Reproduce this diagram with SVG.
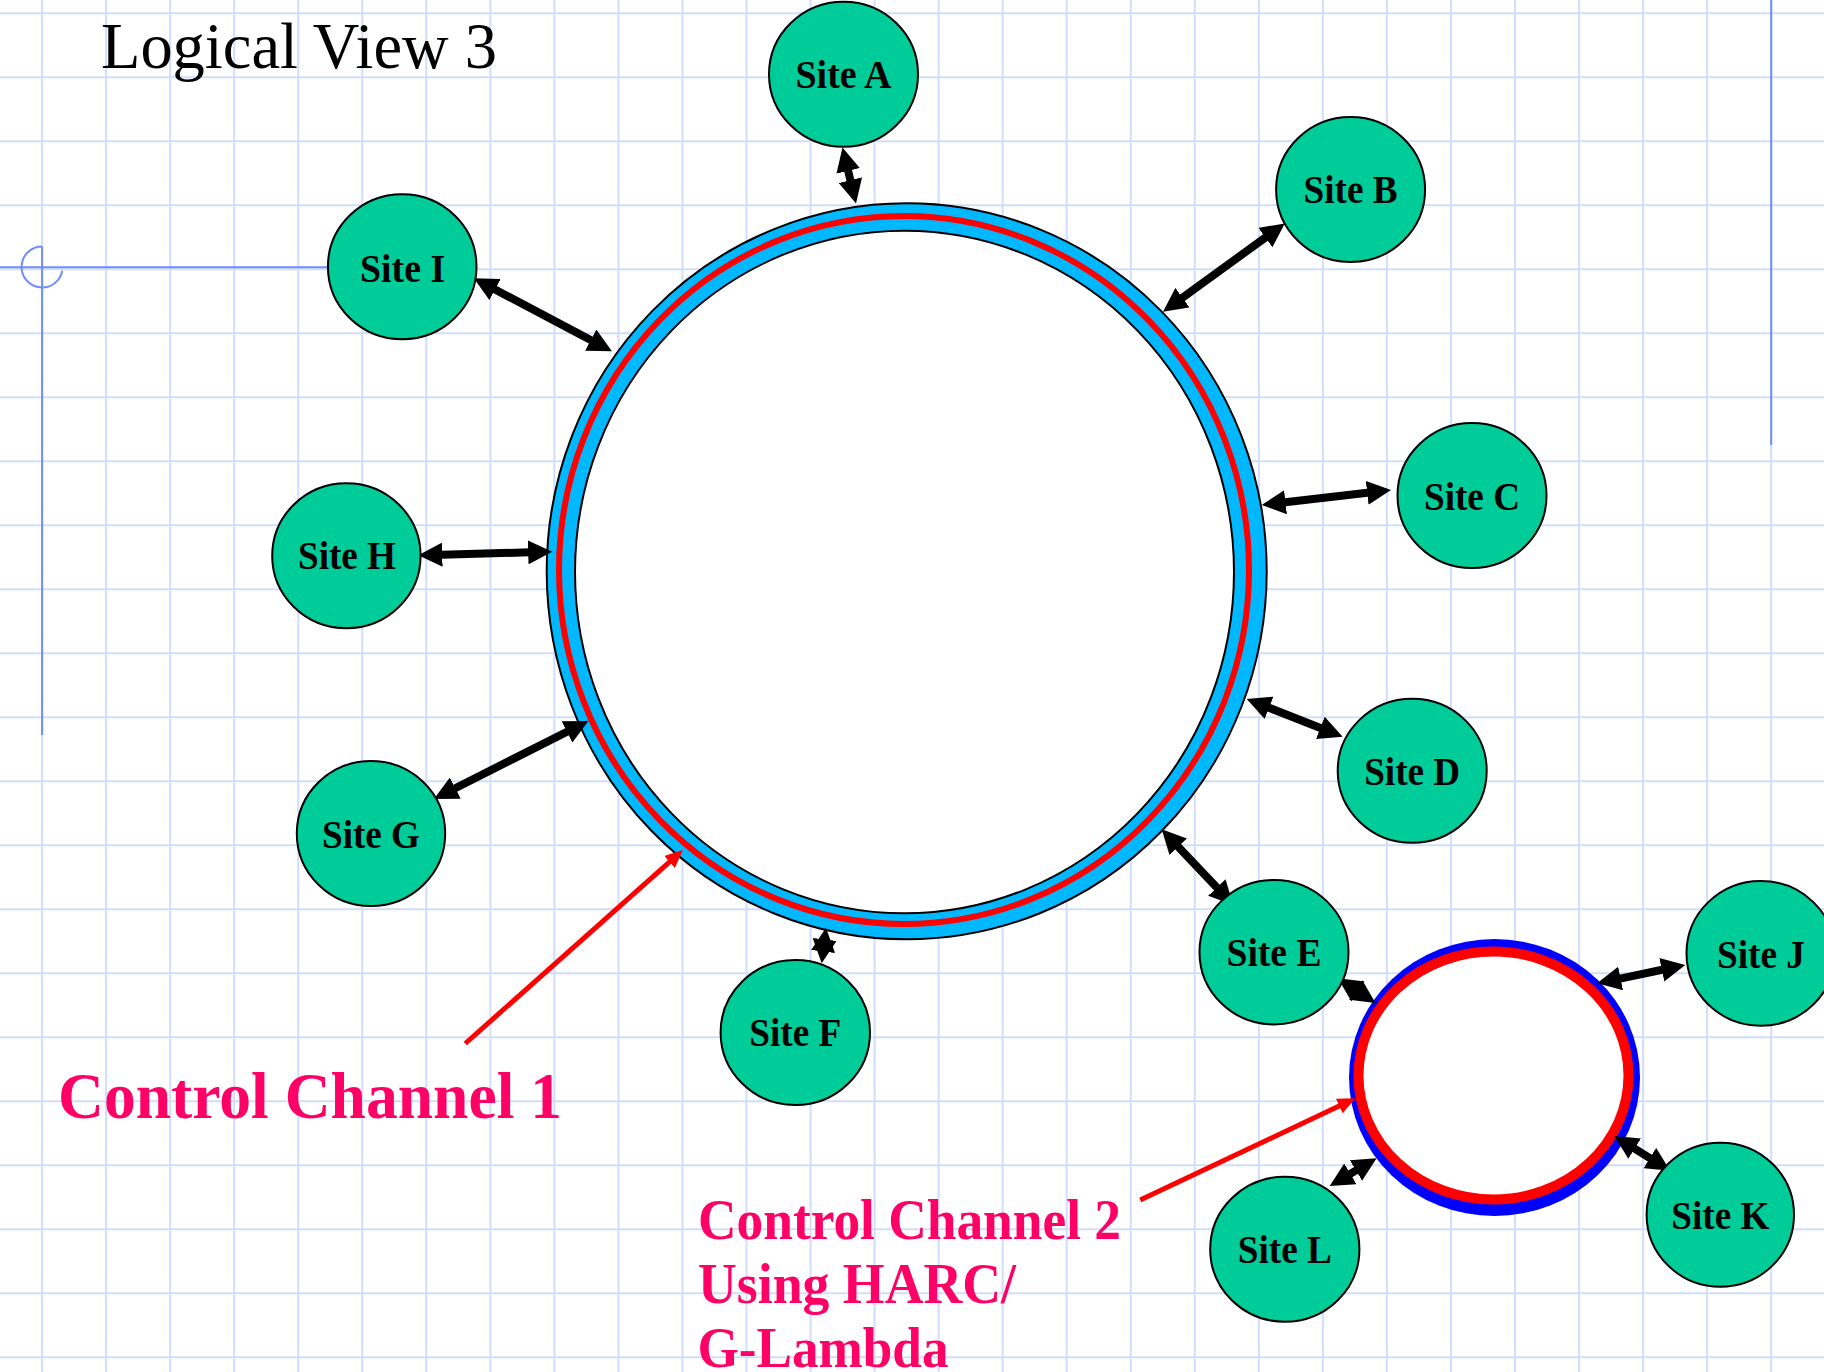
<svg xmlns="http://www.w3.org/2000/svg" width="1824" height="1372" viewBox="0 0 1824 1372">
  <style>
    .grid line { stroke: #d2ddfa; stroke-width: 2; }
    .guide { stroke: #6e8cff; stroke-width: 2; fill: none; }
    .site ellipse { fill: #00cc99; stroke: #000; stroke-width: 2; }
    .site text { font-family: "Liberation Serif", "Times New Roman", serif; font-weight: bold; font-size: 40px; fill: #000; text-anchor: middle; }
    .link { stroke: #000; stroke-width: 8; fill: none; marker-start: url(#head); marker-end: url(#head); }
    .pointer { stroke: #ff0000; stroke-width: 5; fill: none; marker-end: url(#redhead); }
    .title { font-family: "Liberation Serif", "Times New Roman", serif; font-size: 65px; fill: #000; }
    .label { font-family: "Liberation Serif", "Times New Roman", serif; font-weight: bold; fill: #ff0066; }
  </style>
  <defs>
    <marker id="head" viewBox="0 -12 24 24" refX="9" refY="0" markerWidth="24" markerHeight="24" markerUnits="userSpaceOnUse" orient="auto-start-reverse">
      <path d="M0,-12 L24,0 L0,12 z" fill="#000"/>
    </marker>
    <marker id="redhead" viewBox="0 -8 18 16" refX="8" refY="0" markerWidth="18" markerHeight="16" markerUnits="userSpaceOnUse" orient="auto">
      <path d="M0,-8 L18,0 L0,8 z" fill="#ff0000"/>
    </marker>
  </defs>

  <rect width="1824" height="1372" fill="#fff"/>

  <!-- graph paper -->
  <g class="grid">
    <line x1="42.1" y1="0" x2="42.1" y2="1372"/>
    <line x1="106.1" y1="0" x2="106.1" y2="1372"/>
    <line x1="170.2" y1="0" x2="170.2" y2="1372"/>
    <line x1="234.2" y1="0" x2="234.2" y2="1372"/>
    <line x1="298.3" y1="0" x2="298.3" y2="1372"/>
    <line x1="362.3" y1="0" x2="362.3" y2="1372"/>
    <line x1="426.3" y1="0" x2="426.3" y2="1372"/>
    <line x1="490.4" y1="0" x2="490.4" y2="1372"/>
    <line x1="554.4" y1="0" x2="554.4" y2="1372"/>
    <line x1="618.5" y1="0" x2="618.5" y2="1372"/>
    <line x1="682.5" y1="0" x2="682.5" y2="1372"/>
    <line x1="746.5" y1="0" x2="746.5" y2="1372"/>
    <line x1="810.6" y1="0" x2="810.6" y2="1372"/>
    <line x1="874.6" y1="0" x2="874.6" y2="1372"/>
    <line x1="938.7" y1="0" x2="938.7" y2="1372"/>
    <line x1="1002.7" y1="0" x2="1002.7" y2="1372"/>
    <line x1="1066.7" y1="0" x2="1066.7" y2="1372"/>
    <line x1="1130.8" y1="0" x2="1130.8" y2="1372"/>
    <line x1="1194.8" y1="0" x2="1194.8" y2="1372"/>
    <line x1="1258.9" y1="0" x2="1258.9" y2="1372"/>
    <line x1="1322.9" y1="0" x2="1322.9" y2="1372"/>
    <line x1="1386.9" y1="0" x2="1386.9" y2="1372"/>
    <line x1="1451.0" y1="0" x2="1451.0" y2="1372"/>
    <line x1="1515.0" y1="0" x2="1515.0" y2="1372"/>
    <line x1="1579.1" y1="0" x2="1579.1" y2="1372"/>
    <line x1="1643.1" y1="0" x2="1643.1" y2="1372"/>
    <line x1="1707.1" y1="0" x2="1707.1" y2="1372"/>
    <line x1="1771.2" y1="0" x2="1771.2" y2="1372"/>
    <line x1="0" y1="13.3" x2="1824" y2="13.3"/>
    <line x1="0" y1="77.3" x2="1824" y2="77.3"/>
    <line x1="0" y1="141.3" x2="1824" y2="141.3"/>
    <line x1="0" y1="205.3" x2="1824" y2="205.3"/>
    <line x1="0" y1="269.3" x2="1824" y2="269.3"/>
    <line x1="0" y1="333.3" x2="1824" y2="333.3"/>
    <line x1="0" y1="397.3" x2="1824" y2="397.3"/>
    <line x1="0" y1="461.3" x2="1824" y2="461.3"/>
    <line x1="0" y1="525.3" x2="1824" y2="525.3"/>
    <line x1="0" y1="589.3" x2="1824" y2="589.3"/>
    <line x1="0" y1="653.3" x2="1824" y2="653.3"/>
    <line x1="0" y1="717.3" x2="1824" y2="717.3"/>
    <line x1="0" y1="781.3" x2="1824" y2="781.3"/>
    <line x1="0" y1="845.3" x2="1824" y2="845.3"/>
    <line x1="0" y1="909.3" x2="1824" y2="909.3"/>
    <line x1="0" y1="973.3" x2="1824" y2="973.3"/>
    <line x1="0" y1="1037.3" x2="1824" y2="1037.3"/>
    <line x1="0" y1="1101.3" x2="1824" y2="1101.3"/>
    <line x1="0" y1="1165.3" x2="1824" y2="1165.3"/>
    <line x1="0" y1="1229.3" x2="1824" y2="1229.3"/>
    <line x1="0" y1="1293.3" x2="1824" y2="1293.3"/>
    <line x1="0" y1="1357.3" x2="1824" y2="1357.3"/>
  </g>

  <!-- layout guides -->
  <g id="guides">
    <line class="guide" x1="0" y1="267.3" x2="329" y2="267.3"/>
    <line class="guide" x1="42.1" y1="246.5" x2="42.1" y2="735"/>
    <path class="guide" d="M42.1,246.5 A20.5,20.5 0 1 0 62.3,270.6"/>
    <line class="guide" x1="1771.2" y1="0" x2="1771.2" y2="445"/>
  </g>

  <text class="title" x="101" y="68" textLength="396" lengthAdjust="spacingAndGlyphs">Logical View 3</text>

  <!-- control channel 1: main ring -->
  <g id="ring1">
    <ellipse cx="906.7" cy="571.3" rx="360" ry="368" fill="#00b8ff" stroke="#000" stroke-width="2"/>
    <ellipse cx="904" cy="570" rx="345" ry="354" fill="none" stroke="#ff0000" stroke-width="6"/>
    <ellipse cx="904.5" cy="572" rx="329.5" ry="341.3" fill="#fff" stroke="#000" stroke-width="2"/>
  </g>

  <!-- control channel 2: small ring -->
  <g id="ring2">
    <ellipse cx="1494.5" cy="1077.5" rx="145.5" ry="138.5" fill="#0000ff"/>
    <ellipse cx="1493.5" cy="1075.5" rx="135" ry="124" fill="#fff" stroke="#ff0000" stroke-width="10"/>
  </g>

  <g id="connectors">
    <line class="link" x1="846.0" y1="162.1" x2="852.5" y2="188.9"/>
    <line class="link" x1="1272.65" y1="232.3" x2="1175.15" y2="302.9"/>
    <line class="link" x1="1376.1" y1="491.7" x2="1276.6" y2="503.3"/>
    <line class="link" x1="1328.7" y1="731.2" x2="1260.7" y2="704.5"/>
    <line class="link" x1="1223" y1="894.1" x2="1172" y2="840.2"/>
    <line class="link" x1="1350.5" y1="986.55" x2="1363" y2="994.75"/>
    <line class="link" x1="823.5" y1="948.4" x2="824.2" y2="942.6"/>
    <line class="link" x1="447.3" y1="792.2" x2="575" y2="727.8"/>
    <line class="link" x1="433.3" y1="554.9" x2="537.2" y2="552.1"/>
    <line class="link" x1="487.1" y1="285.3" x2="598.7" y2="344.3"/>
    <line class="link" x1="1670.6" y1="968" x2="1611.8" y2="980.3"/>
    <line class="link" x1="1657.45" y1="1162.8" x2="1627.05" y2="1143.9"/>
    <line class="link" x1="1342.6" y1="1178.4" x2="1363.7" y2="1165.9"/>
    <line class="pointer" x1="465.3" y1="1043.5" x2="675.5" y2="856.6"/>
    <line class="pointer" x1="1140.2" y1="1200" x2="1346.5" y2="1102.6"/>
  </g>

  <g id="site-a" class="site"><ellipse cx="843.5" cy="74.2" rx="74.5" ry="72.5"/><text x="843.5" y="88.3" textLength="96" lengthAdjust="spacingAndGlyphs">Site A</text></g>
  <g id="site-b" class="site"><ellipse cx="1350.6" cy="189.5" rx="74.5" ry="72.5"/><text x="1350.6" y="203" textLength="94" lengthAdjust="spacingAndGlyphs">Site B</text></g>
  <g id="site-c" class="site"><ellipse cx="1472" cy="495.5" rx="74.5" ry="72.5"/><text x="1472" y="509.5" textLength="96" lengthAdjust="spacingAndGlyphs">Site C</text></g>
  <g id="site-d" class="site"><ellipse cx="1412.2" cy="770.8" rx="74.5" ry="72"/><text x="1412.2" y="785" textLength="96" lengthAdjust="spacingAndGlyphs">Site D</text></g>
  <g id="site-e" class="site"><ellipse cx="1274" cy="952.2" rx="74.5" ry="72.2"/><text x="1274" y="966" textLength="95" lengthAdjust="spacingAndGlyphs">Site E</text></g>
  <g id="site-f" class="site"><ellipse cx="795.3" cy="1032.5" rx="74.7" ry="72.5"/><text x="795.3" y="1045.7" textLength="92" lengthAdjust="spacingAndGlyphs">Site F</text></g>
  <g id="site-g" class="site"><ellipse cx="371" cy="833.5" rx="74.2" ry="72.5"/><text x="371" y="847.7" textLength="98" lengthAdjust="spacingAndGlyphs">Site G</text></g>
  <g id="site-h" class="site"><ellipse cx="346.4" cy="555.8" rx="74.2" ry="72.5"/><text x="347" y="569" textLength="98" lengthAdjust="spacingAndGlyphs">Site H</text></g>
  <g id="site-i" class="site"><ellipse cx="402.2" cy="266.8" rx="74.3" ry="72.5"/><text x="402.6" y="281.7" textLength="85" lengthAdjust="spacingAndGlyphs">Site I</text></g>
  <g id="site-j" class="site"><ellipse cx="1760.8" cy="953.3" rx="74.3" ry="72.4"/><text x="1761" y="968.3" textLength="88" lengthAdjust="spacingAndGlyphs">Site J</text></g>
  <g id="site-k" class="site"><ellipse cx="1720.3" cy="1214.7" rx="73.7" ry="72"/><text x="1720.3" y="1229" textLength="98" lengthAdjust="spacingAndGlyphs">Site K</text></g>
  <g id="site-l" class="site"><ellipse cx="1284.8" cy="1249.2" rx="74.6" ry="72.5"/><text x="1284.8" y="1263.3" textLength="94" lengthAdjust="spacingAndGlyphs">Site L</text></g>

  <g id="labels">
    <text class="label" x="58" y="1117.7" font-size="66" textLength="504" lengthAdjust="spacingAndGlyphs">Control Channel 1</text>
    <text class="label" x="698" y="1239.3" font-size="56" textLength="423" lengthAdjust="spacingAndGlyphs">Control Channel 2</text>
    <text class="label" x="698" y="1303.3" font-size="56" textLength="318" lengthAdjust="spacingAndGlyphs">Using HARC/</text>
    <text class="label" x="697.5" y="1366.7" font-size="56" textLength="251" lengthAdjust="spacingAndGlyphs">G-Lambda</text>
  </g>
</svg>
